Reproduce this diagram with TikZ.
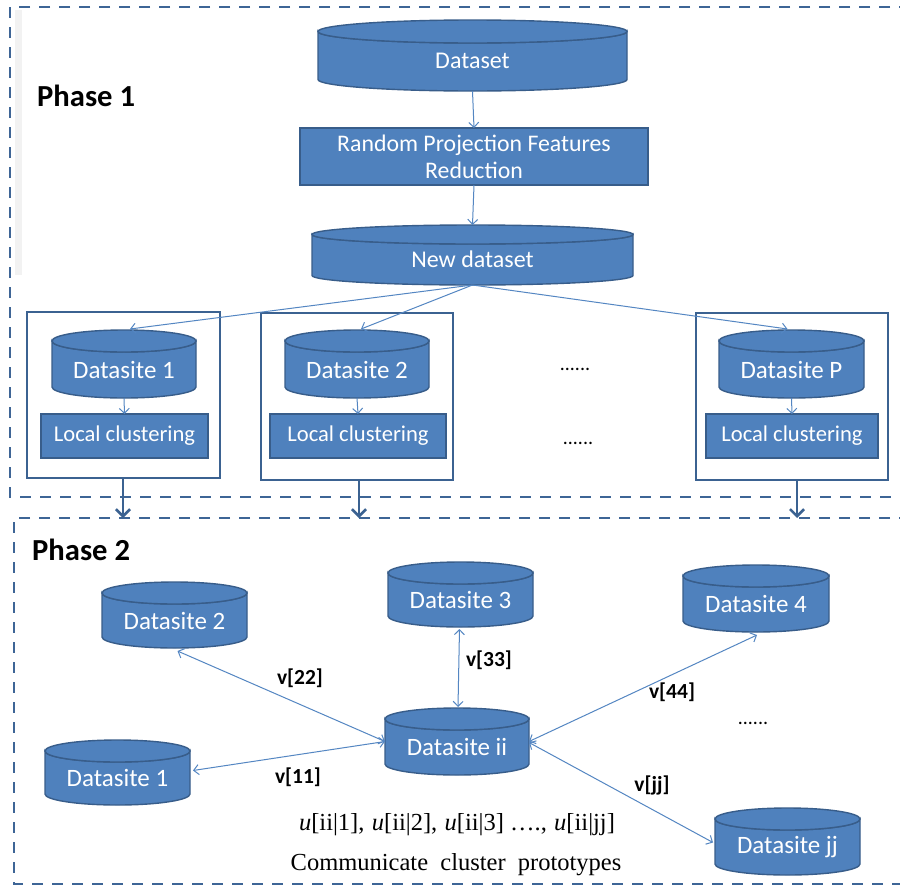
\documentclass[tikz,border=0pt]{standalone}
\usepackage{fontspec}
\setmainfont{Carlito}
\newfontfamily\timesf{Liberation Serif}
\usetikzlibrary{arrows.meta,calc}
\definecolor{boxblue}{RGB}{79,129,189}
\definecolor{boxedge}{RGB}{56,93,138}
\definecolor{thinarrow}{RGB}{84,134,194}
\definecolor{darkedge}{RGB}{59,98,145}
\definecolor{phaseedge}{RGB}{62,101,150}
\tikzset{
  cylbox/.style={rectangle, inner sep=0pt, outer sep=0pt},
  cylfill/.style={fill=boxblue, draw=boxedge, line width=1.4pt},
  cyltext/.style={text=white, font=\fontsize{25}{29}\selectfont, inner sep=0pt},
  bluebox/.style={rectangle, fill=boxblue, draw=boxedge, line width=1.4pt, text=white, inner sep=0pt, outer sep=0pt, align=center},
  sitebox/.style={rectangle, draw=darkedge, fill=white, line width=2pt, inner sep=0pt, outer sep=0pt},
  thinarr/.style={draw=thinarrow, line width=1pt, -{Straight Barb[length=5pt,width=10pt]}},
  twoarr/.style={draw=thinarrow, line width=1pt, {Straight Barb[length=5pt,width=10pt]}-{Straight Barb[length=5pt,width=10pt]}},
  thickarr/.style={draw=darkedge, line width=2.6pt, -{Straight Barb[length=7pt,width=14pt]}},
  phasebox/.style={draw=phaseedge, line width=2.6pt, dash pattern=on 11pt off 9pt},
  phaselabel/.style={font=\bfseries\fontsize{30.6}{34}\selectfont, inner sep=0pt, anchor=base west},
  vlabel/.style={font=\bfseries\fontsize{21.5}{24}\selectfont, inner sep=0pt},
  dotslabel/.style={font=\fontsize{20}{24}\selectfont, inner sep=0pt, anchor=base},
  serifline/.style={font=\timesf\fontsize{24.5}{28}\selectfont, inner sep=0pt, anchor=base}
}
% name, cx, cy, w, h, ry, text
\newcommand\dbcyl[7]{%
  \node[cylbox, minimum width=#4pt, minimum height=#5pt] (#1) at (#2,#3) {};
  \filldraw[cylfill] ($(#1.north west)+(0,#6)$) -- ($(#1.south west)+(0,-#6)$)
     arc[start angle=180, end angle=360, x radius=#4pt/2, y radius=#6pt]
     -- ($(#1.north east)+(0,#6)$)
     arc[start angle=0, end angle=-180, x radius=#4pt/2, y radius=#6pt] -- cycle;
  \filldraw[cylfill] ($(#1.north)+(0,#6)$) ellipse[x radius=#4pt/2, y radius=#6pt];
  \node[cyltext] (#1-t) at ($(#1.center)+(0,#6/2)$) {#7};
}
\begin{document}
\begin{tikzpicture}[x=1pt,y=-1pt]
\useasboundingbox (0,0) rectangle (900,889);
\fill[white] (0,0) rectangle (900,889);
% faint strip
\fill[black!5] (15,10) rectangle (22,275);

% phase boxes
\draw[phasebox] (930,7) -- (10,7) -- (10,497) -- (930,497);
\draw[phasebox] (930,518) -- (14,518) -- (14,884) -- (930,884);

\node[phaselabel] (ph1) at (37,106) {Phase 1};
\node[phaselabel] (ph2) at (32,560) {Phase 2};

% Phase 1
\dbcyl{dataset}{472.5}{55.5}{309}{71}{11.5}{\fontsize{24}{28}\selectfont Dataset}
\node[bluebox, minimum width=348pt, minimum height=57pt, font=\fontsize{23.8}{27}\selectfont] (rp) at (474,156.5) {Random Projection Features\\Reduction};
\dbcyl{newds}{472.5}{255}{321}{60}{9.5}{\fontsize{24}{28}\selectfont New dataset}

\node[sitebox, minimum width=193pt, minimum height=166pt] (b1) at (123.5,395) {};
\node[sitebox, minimum width=192pt, minimum height=167pt] (b2) at (357,396.5) {};
\node[sitebox, minimum width=192pt, minimum height=167pt] (bP) at (792,396.5) {};

\dbcyl{sa1}{124}{364}{144}{68}{11}{Datasite 1}
\dbcyl{sa2}{357}{364}{144}{68}{11}{Datasite 2}
\dbcyl{saP}{791.5}{364}{145}{68}{11}{Datasite P}

\node[bluebox, minimum width=167pt, minimum height=44pt, font=\fontsize{22.6}{26}\selectfont] (lc1) at (124.5,436) {Local clustering};
\node[bluebox, minimum width=176pt, minimum height=44pt, font=\fontsize{22.6}{26}\selectfont] (lc2) at (358,436) {Local clustering};
\node[bluebox, minimum width=172pt, minimum height=44pt, font=\fontsize{22.6}{26}\selectfont] (lcP) at (792,436) {Local clustering};

\node[dotslabel] (d1) at (575,370) {......};
\node[dotslabel] (d2) at (578,444) {......};

\draw[thinarr] (dataset.south) -- (rp.north);
\draw[thinarr] (rp.south) -- (newds.north);
\draw[thinarr] (newds.south) -- ($(sa1.north)+(6,-1)$);
\draw[thinarr] (newds.south) -- ($(sa2.north)+(4,-1)$);
\draw[thinarr] (newds.south) -- ($(saP.north)+(-4,-1)$);
\draw[thinarr] (sa1.south) -- (lc1.north);
\draw[thinarr] (sa2.south) -- (lc2.north);
\draw[thinarr] (saP.south) -- (lcP.north);

\coordinate (e1) at (123,518);
\coordinate (e2) at (359,518);
\coordinate (eP) at (797,518);
\draw[thickarr] (b1.south -| e1) -- (e1);
\draw[thickarr] (b2.south -| e2) -- (e2);
\draw[thickarr] (bP.south -| eP) -- (eP);

% Phase 2
\dbcyl{q2}{174.5}{615}{145}{66}{11}{Datasite 2}
\dbcyl{q1}{117.5}{772.5}{145}{65}{11}{Datasite 1}
\dbcyl{q3}{460.5}{594.5}{145}{65}{11}{Datasite 3}
\dbcyl{qii}{457}{741.5}{144}{67}{11}{Datasite ii}
\dbcyl{q4}{756}{598.5}{146}{67}{11}{Datasite 4}
\dbcyl{qjj}{787.5}{841.5}{145}{67}{11}{Datasite jj}

\draw[twoarr] (qii.west) -- ($(q2.south)+(3,3)$);
\draw[twoarr] (qii.west) -- ($(q1.east)+(3,-2)$);
\draw[twoarr] ($(q3.south)+(-1,2)$) -- ($(qii.north)+(1,-1)$);
\draw[twoarr] (qii.east) -- ($(q4.south)+(1,3)$);
\draw[twoarr] ($(qii.east)+(0,1)$) -- ($(qjj.west)+(-2,1)$);

\node[vlabel] (v22) at (300,678) {v[22]};
\node[vlabel] (v33) at (489,660) {v[33]};
\node[vlabel] (v11) at (298,777) {v[11]};
\node[vlabel] (v44) at (672,692) {v[44]};
\node[vlabel] (vjj) at (652,785) {v[jj]};
\node[dotslabel] (d3) at (753,724) {......};

\node[serifline] (uline) at (457,830) {\textit{u}[ii|1],\hspace{0.3em}\textit{u}[ii|2],\hspace{0.3em}\textit{u}[ii|3] ….,\hspace{0.3em}\textit{u}[ii|jj]};
\node[serifline] (comm) at (456,870) {Communicate\ \ cluster\ \ prototypes};
\end{tikzpicture}
\end{document}
